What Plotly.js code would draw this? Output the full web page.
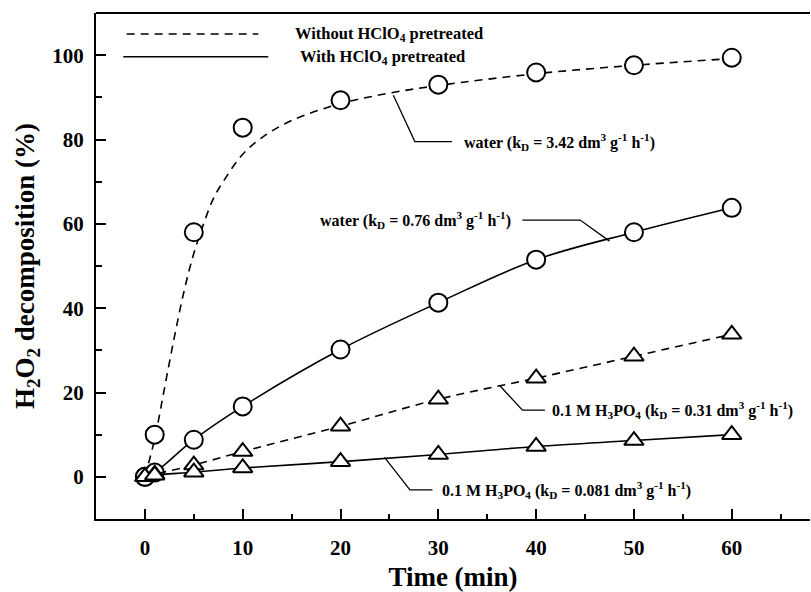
<!DOCTYPE html>
<html>
<head>
<meta charset="utf-8">
<script src="https://cdn.plot.ly/plotly-3.0.1.min.js"></script>
<style>
  html, body { margin: 0; padding: 0; background: #ffffff; }
  #chart { width: 811px; height: 592px; }
</style>
</head>
<body>
<div id="chart"></div>
<script>
// Sampling times (min)
const timeMin = [0, 1, 5, 10, 20, 30, 40, 50, 60];

// H2O2 decomposition (%) measured at each time
const waterUntreated = [0, 10, 58, 82.8, 89.3, 93.0, 95.9, 97.6, 99.4];
const waterTreated   = [0, 1.0, 8.8, 16.7, 30.2, 41.3, 51.5, 58.0, 63.8];
const acidUntreated  = [0, 0.6, 2.8, 6.0, 12.0, 18.4, 23.4, 28.6, 33.8];
const acidTreated    = [0, 0.4, 1.1, 2.1, 3.6, 5.3, 7.2, 8.6, 10.0];

// Kinetic fit drawn through the untreated water run
const fitTime           = [0, 1, 2, 3, 4, 5, 6, 7, 8, 10, 12, 15, 20, 25, 30, 40, 50, 60];
const fitWaterUntreated = [0, 9, 21, 33, 44, 53, 60, 66, 70, 76.5, 80.5, 84.5, 88.5, 91, 92.8, 95.6, 97.6, 99.2];

// Legend and callout texts
const legendLabels = ['Without HClO<sub>4</sub> pretreated', 'With HClO<sub>4</sub> pretreated'];
const calloutLabels = [
  'water (k<sub>D</sub> = 3.42 dm<sup>3</sup> g<sup>-1</sup> h<sup>-1</sup>)',
  'water (k<sub>D</sub> = 0.76 dm<sup>3</sup> g<sup>-1</sup> h<sup>-1</sup>)',
  '0.1 M H<sub>3</sub>PO<sub>4</sub> (k<sub>D</sub> = 0.31 dm<sup>3</sup> g<sup>-1</sup> h<sup>-1</sup>)',
  '0.1 M H<sub>3</sub>PO<sub>4</sub> (k<sub>D</sub> = 0.081 dm<sup>3</sup> g<sup>-1</sup> h<sup>-1</sup>)'
];

const FONT = 'Liberation Serif, Times New Roman, serif';
const DASH = '8px,6px';
const LW = 1.6;

function markerStyle(symbol, size) {
  return { symbol: symbol, size: size, color: '#ffffff', line: { color: '#000000', width: 2 } };
}

const traces = [
  // untreated water: fitted curve + points
  { x: fitTime, y: fitWaterUntreated, mode: 'lines',
    line: { color: '#000', width: LW, dash: DASH, shape: 'spline', smoothing: 1 } },
  { x: timeMin, y: waterUntreated, mode: 'markers', marker: markerStyle('circle', 18) },
  // pretreated water
  { x: timeMin, y: waterTreated, mode: 'lines+markers',
    line: { color: '#000', width: LW, shape: 'spline', smoothing: 1 },
    marker: markerStyle('circle', 18) },
  // untreated, 0.1 M H3PO4
  { x: timeMin, y: acidUntreated, mode: 'lines+markers',
    line: { color: '#000', width: LW, dash: DASH, shape: 'spline', smoothing: 1 },
    marker: markerStyle('triangle-up', 17) },
  // pretreated, 0.1 M H3PO4
  { x: timeMin, y: acidTreated, mode: 'lines+markers',
    line: { color: '#000', width: LW, shape: 'spline', smoothing: 1 },
    marker: markerStyle('triangle-up', 17) }
];

// Callouts: leader polyline (data units) and text anchor
const callouts = [
  { path: [[25.4, 90.5], [27.6, 79.5], [31.4, 79.5]], tx: 32.4, ty: 79.5, anchor: 'left' },
  { path: [[47.5, 55.9], [44.5, 60.9], [38.6, 60.9]], tx: 37.6, ty: 60.9, anchor: 'right' },
  { path: [[36.3, 21.6], [38.6, 15.8], [40.9, 15.8]], tx: 41.4, ty: 15.8, anchor: 'left' },
  { path: [[24.5, 4.6], [27.1, -3.1], [29.4, -3.1]], tx: 30.2, ty: -3.1, anchor: 'left' }
];

const shapes = [
  // top frame line
  { type: 'line', xref: 'paper', yref: 'paper', x0: 0, x1: 1, y0: 1, y1: 1,
    line: { color: '#000', width: 2 } },
  // legend samples
  { type: 'line', xref: 'paper', yref: 'paper', x0: 0.043, x1: 0.2273, y0: 0.9585, y1: 0.9585,
    line: { color: '#000', width: LW, dash: DASH } },
  { type: 'line', xref: 'paper', yref: 'paper', x0: 0.0382, x1: 0.2413, y0: 0.9136, y1: 0.9136,
    line: { color: '#000', width: LW } }
];

const annotations = [
  { xref: 'paper', yref: 'paper', x: 0.2759, y: 0.9585, xanchor: 'left', yanchor: 'middle',
    text: legendLabels[0], showarrow: false, font: { family: FONT, size: 16.5, weight: 'bold', color: '#000' } },
  { xref: 'paper', yref: 'paper', x: 0.2829, y: 0.9136, xanchor: 'left', yanchor: 'middle',
    text: legendLabels[1], showarrow: false, font: { family: FONT, size: 16.5, weight: 'bold', color: '#000' } }
];

callouts.forEach(function (c, i) {
  const d = c.path.map(function (p, k) { return (k ? 'L' : 'M') + p[0] + ',' + p[1]; }).join(' ');
  shapes.push({ type: 'path', xref: 'x', yref: 'y', path: d, line: { color: '#000', width: 1.3 } });
  annotations.push({ xref: 'x', yref: 'y', x: c.tx, y: c.ty, xanchor: c.anchor, yanchor: 'middle',
    text: calloutLabels[i], showarrow: false,
    font: { family: FONT, size: 16, weight: 'bold', color: '#000' } });
});

const axisCommon = {
  showline: true, linecolor: '#000', linewidth: 2, mirror: false,
  showgrid: false, zeroline: false,
  ticks: 'inside', tickcolor: '#000', tickwidth: 2, ticklen: 10,
  tickfont: { family: FONT, size: 21, weight: 'bold', color: '#000' }
};

const layout = {
  width: 811, height: 592,
  margin: { l: 96, r: 1, t: 13, b: 73 },
  paper_bgcolor: '#ffffff', plot_bgcolor: '#ffffff',
  showlegend: false,
  font: { family: FONT, color: '#000' },
  xaxis: Object.assign({}, axisCommon, {
    range: [-5, 68], tickmode: 'linear', tick0: 0, dtick: 10,
    minor: { dtick: 5, ticks: 'inside', ticklen: 5, tickwidth: 2, tickcolor: '#000' },
    ticklabelstandoff: 9,
    title: { text: 'Time (min)', standoff: 12,
      font: { family: FONT, size: 27, weight: 'bold', color: '#000' } }
  }),
  yaxis: Object.assign({}, axisCommon, {
    range: [-10, 110], tickmode: 'linear', tick0: 0, dtick: 20,
    minor: { dtick: 10, ticks: 'inside', ticklen: 6, tickwidth: 2, tickcolor: '#000' },
    ticklabelstandoff: 6,
    title: { text: 'H<sub>2</sub>O<sub>2</sub> decomposition (%)', standoff: 10,
      font: { family: FONT, size: 27, weight: 'bold', color: '#000' } }
  }),
  shapes: shapes,
  annotations: annotations
};

Plotly.newPlot('chart', traces, layout, { displayModeBar: false, staticPlot: true });
</script>
</body>
</html>
